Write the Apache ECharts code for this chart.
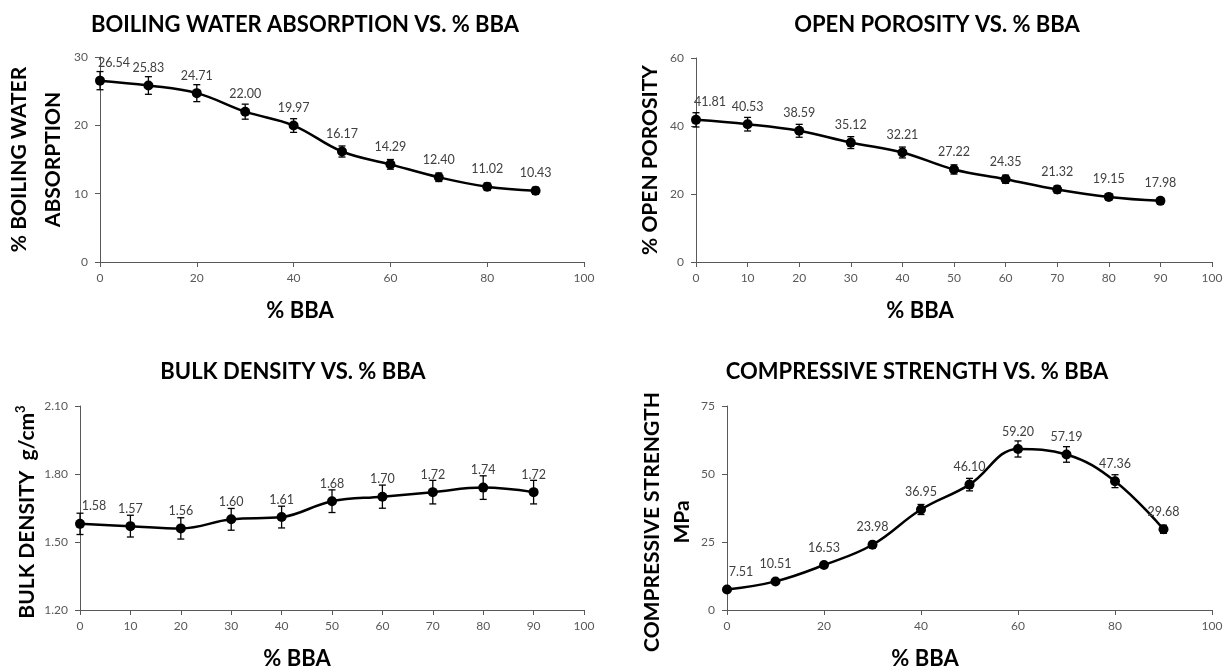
<!DOCTYPE html>
<html><head><meta charset="utf-8">
<script src="https://cdn.jsdelivr.net/npm/echarts@6/dist/echarts.min.js"></script>
<style>html,body{margin:0;padding:0;background:#fff}#c{width:1229px;height:669px}</style>
</head><body><div id="c"></div>
<script>
// ---- data ----
const bbaPercent = [0, 10, 20, 30, 40, 50, 60, 70, 80, 90];
const waterAbsorption = [26.54, 25.83, 24.71, 22.00, 19.97, 16.17, 14.29, 12.40, 11.02, 10.43];
const waterAbsorptionErr = [1.33, 1.29, 1.24, 1.10, 1.00, 0.81, 0.71, 0.62, 0.55, 0.52];
const openPorosity = [41.81, 40.53, 38.59, 35.12, 32.21, 27.22, 24.35, 21.32, 19.15, 17.98];
const openPorosityErr = [2.10, 2.00, 1.90, 1.75, 1.60, 1.35, 1.20, 1.05, 0.95, 0.90];
const bulkDensity = [1.58, 1.57, 1.56, 1.60, 1.61, 1.68, 1.70, 1.72, 1.74, 1.72];
const bulkDensityErr = [0.047, 0.048, 0.047, 0.048, 0.048, 0.050, 0.051, 0.052, 0.052, 0.052];
const compressiveStrength = [7.51, 10.51, 16.53, 23.98, 36.95, 46.10, 59.20, 57.19, 47.36, 29.68];
const compressiveStrengthErr = [0.38, 0.53, 0.83, 1.20, 1.85, 2.30, 2.96, 2.86, 2.37, 1.48];

const chartTitles = ['BOILING WATER ABSORPTION VS. % BBA', 'OPEN POROSITY VS. % BBA',
                     'BULK DENSITY VS. % BBA', 'COMPRESSIVE STRENGTH VS. % BBA'];
const yAxisNames = ['% BOILING WATER\nABSORPTION', '% OPEN POROSITY',
                    'BULK DENSITY  g/cm{sup|3}', 'COMPRESSIVE STRENGTH\nMPa'];
const xAxisName = '% BBA';
const yRanges = [[0, 30, 10], [0, 60, 20], [1.2, 2.1, 0.3], [0, 75, 25]];
const xIntervals = [20, 10, 10, 20];

const seriesValues = [waterAbsorption, openPorosity, bulkDensity, compressiveStrength];
const seriesErrors = [waterAbsorptionErr, openPorosityErr, bulkDensityErr, compressiveStrengthErr];

// ---- layout / style ----
const FONT = 'Lato';
const grids = [
  {left: 100, top: 57, width: 484, height: 205},
  {left: 696, top: 58, width: 516, height: 204},
  {left: 80, top: 406, width: 504, height: 204},
  {left: 727, top: 406, width: 485, height: 204}
];
const titlePos = [[305, 12], [937, 12], [293, 359], [917, 359]];
const yNameCfg = [
  {gap: 23, lh: 34, pad: [0, 0, 0, 0]},
  {gap: 33, lh: 26, pad: [0, 0, 0, 0]},
  {gap: 40, lh: 26, pad: [0, 8, 0, 0]},
  {gap: 30, lh: 30, pad: [0, 28, 0, 0]}
];
const xNameGap = [36, 36, 36, 36];
const xNamePad = [84, 68, 70, 89];
const axisColor = '#595959';

function renderErr(params, api) {
  const x = api.value(0), lo = api.value(1), hi = api.value(2);
  const a = api.coord([x, lo]), b = api.coord([x, hi]);
  const w = 3.5;
  const st = {stroke: '#000', lineWidth: 1.3};
  return {type: 'group', children: [
    {type: 'line', shape: {x1: a[0], y1: a[1], x2: b[0], y2: b[1]}, style: st},
    {type: 'line', shape: {x1: a[0] - w, y1: a[1], x2: a[0] + w, y2: a[1]}, style: st},
    {type: 'line', shape: {x1: b[0] - w, y1: b[1], x2: b[0] + w, y2: b[1]}, style: st}
  ]};
}

const option = {
  backgroundColor: '#fff',
  animation: false,
  title: chartTitles.map((t, i) => ({
    text: t, left: titlePos[i][0], top: titlePos[i][1], textAlign: 'center', padding: 0,
    textStyle: {fontFamily: FONT, fontWeight: 'bold', fontSize: 22, color: '#000', lineHeight: 26}
  })),
  grid: grids.map(g => Object.assign({containLabel: false, outerBoundsMode: 'none'}, g)),
  xAxis: grids.map((g, i) => ({
    type: 'value', gridIndex: i, min: 0, max: 100, interval: xIntervals[i],
    name: xAxisName, nameLocation: 'middle', nameGap: xNameGap[i],
    nameTextStyle: {fontFamily: FONT, fontWeight: 'bold', fontSize: 22, color: '#000',
                    lineHeight: 26, padding: [0, xNamePad[i], 0, 0]},
    axisLine: {show: true, lineStyle: {color: axisColor, width: 1}},
    axisTick: {show: true, length: 5, lineStyle: {color: axisColor}},
    axisLabel: {fontFamily: FONT, fontSize: 12, color: '#595959', margin: 10},
    splitLine: {show: false}
  })),
  yAxis: grids.map((g, i) => ({
    type: 'value', gridIndex: i, min: yRanges[i][0], max: yRanges[i][1], interval: yRanges[i][2],
    name: yAxisNames[i], nameLocation: 'middle', nameGap: yNameCfg[i].gap, nameRotate: 90,
    nameTextStyle: {fontFamily: FONT, fontWeight: 'bold', fontSize: 21, color: '#000',
                    lineHeight: yNameCfg[i].lh, padding: yNameCfg[i].pad,
                    rich: {sup: {fontFamily: FONT, fontWeight: 'bold', fontSize: 13, color: '#000',
                                 verticalAlign: 'top', lineHeight: 26}}},
    axisLine: {show: true, lineStyle: {color: axisColor, width: 1}},
    axisTick: {show: true, length: 5, lineStyle: {color: axisColor}},
    axisLabel: {fontFamily: FONT, fontSize: 12, color: '#595959', margin: 12,
                formatter: v => (i === 2 ? v.toFixed(2) : String(Math.round(v)))},
    splitLine: {show: false}
  })),
  series: []
};

seriesValues.forEach((vals, i) => {
  const errs = seriesErrors[i];
  option.series.push({
    type: 'custom', xAxisIndex: i, yAxisIndex: i, z: 2,
    renderItem: renderErr,
    encode: {x: 0, y: [1, 2]},
    data: bbaPercent.map((x, k) => [x, vals[k] - errs[k], vals[k] + errs[k]])
  });
  option.series.push({
    type: 'line', xAxisIndex: i, yAxisIndex: i, z: 3, smooth: 0.4,
    symbol: 'circle', symbolSize: 10,
    lineStyle: {color: '#000', width: 2.5},
    itemStyle: {color: '#000'},
    label: {show: true, position: 'top', distance: 6, fontFamily: FONT, fontSize: 12.5, color: '#404040',
            formatter: p => p.value[1].toFixed(2)},
    data: bbaPercent.map((x, k) => k === 0
      ? {value: [x, vals[k]], label: {offset: [14, 0]}}
      : [x, vals[k]])
  });
});

const chart = echarts.init(document.getElementById('c'), null, {renderer: 'canvas'});
chart.setOption(option);
</script>
</body></html>
